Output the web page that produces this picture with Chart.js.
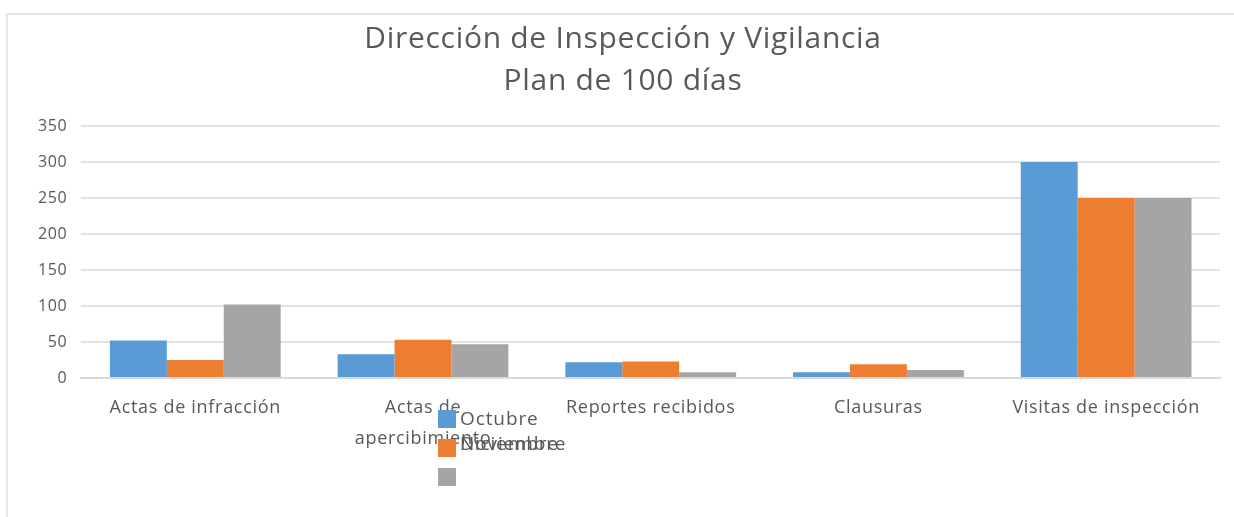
<!DOCTYPE html>
<html>
<head>
<meta charset="utf-8">
<script src="https://cdn.jsdelivr.net/npm/chart.js@4/dist/chart.umd.min.js"></script>
<style>
  html, body { margin: 0; padding: 0; background: #fff; }
  body { width: 1234px; height: 517px; position: relative; overflow: hidden; }
  #frame { position: absolute; left: 6px; top: 13px; width: 1240px; height: 520px;
           border-left: 2px solid #e6e6e6; border-top: 2px solid #e6e6e6; }
  #wrap { position: absolute; left: 0; top: 0; width: 1234px; height: 517px; }
  #legend { position: absolute; left: 438px; top: 410px; font-family: "Open Sans", sans-serif;
            font-size: 19px; color: #595959; }
  .item { position: absolute; white-space: nowrap; }
  .box { position: absolute; width: 18px; height: 18px; }
  .txt { position: absolute; left: 22px; top: -5px; letter-spacing: 0.9px; }
</style>
</head>
<body>
<div id="frame"></div>
<div id="wrap"><canvas id="c" width="1234" height="517"></canvas></div>
<div id="legend"></div>
<script>
const categories = ['Actas de infracción', ['Actas de', 'apercibimiento'], 'Reportes recibidos', 'Clausuras', 'Visitas de inspección'];
const octubre = [52, 33, 22, 8, 300];
const noviembre = [25, 53, 23, 19, 250];
const diciembre = [102, 47, 8, 11, 250];
const seriesNames = ['Octubre', 'Noviembre', 'Diciembre'];
const seriesColors = ['#5b9bd5', '#ed7d31', '#a5a5a5'];
const yTicks = [0, 50, 100, 150, 200, 250, 300, 350];

const data = {
  labels: categories,
  datasets: [octubre, noviembre, diciembre].map((vals, i) => ({
    label: seriesNames[i],
    data: vals,
    backgroundColor: seriesColors[i],
    borderWidth: 0,
    categoryPercentage: 0.75,
    barPercentage: 1
  }))
};

// slightly wider letter spacing like the original's font
const spacing = {
  id: 'spacing',
  beforeDraw(chart) { chart.ctx.letterSpacing = '0.7px'; }
};

const config = {
  type: 'bar',
  data,
  plugins: [spacing],
  options: {
    responsive: false,
    animation: false,
    layout: { padding: { left: 26, right: 14, top: 4, bottom: 56 } },
    scales: {
      x: {
        grid: { display: false },
        border: { color: '#d9d9d9', width: 2 },
        ticks: { color: '#595959', font: { family: 'Open Sans', size: 18, lineHeight: 1.75 }, maxRotation: 0, autoSkip: false, padding: 6 }
      },
      y: {
        min: 0,
        max: 350,
        afterBuildTicks: axis => { axis.ticks = yTicks.map(v => ({ value: v })); },
        grid: { color: '#e3e3e3', lineWidth: 2, drawTicks: false },
        border: { display: false },
        ticks: { color: '#595959', font: { family: 'Open Sans', size: 16 }, padding: 14 }
      }
    },
    plugins: {
      legend: { display: false },
      tooltip: { enabled: false },
      title: {
        display: true,
        text: ['Dirección de Inspección y Vigilancia', 'Plan de 100 días'],
        color: '#595959',
        font: { family: 'Open Sans', size: 30, weight: 'normal', lineHeight: 1.4 },
        padding: { top: 14, bottom: 24 }
      }
    }
  }
};

new Chart(document.getElementById('c'), config);

// legend as drawn in the source: labels for the last two series overlap
const legend = document.getElementById('legend');
const boxTops = [0, 29, 58];
const textTops = [0, 25, 25];
seriesNames.forEach((name, i) => {
  const item = document.createElement('div');
  item.className = 'item';
  item.style.top = boxTops[i] + 'px';
  const box = document.createElement('div');
  box.className = 'box';
  box.style.background = seriesColors[i];
  item.appendChild(box);
  legend.appendChild(item);
  const t = document.createElement('div');
  t.className = 'item';
  t.style.top = textTops[i] + 'px';
  const span = document.createElement('div');
  span.className = 'txt';
  span.textContent = name;
  t.appendChild(span);
  legend.appendChild(t);
});
</script>
</body>
</html>
